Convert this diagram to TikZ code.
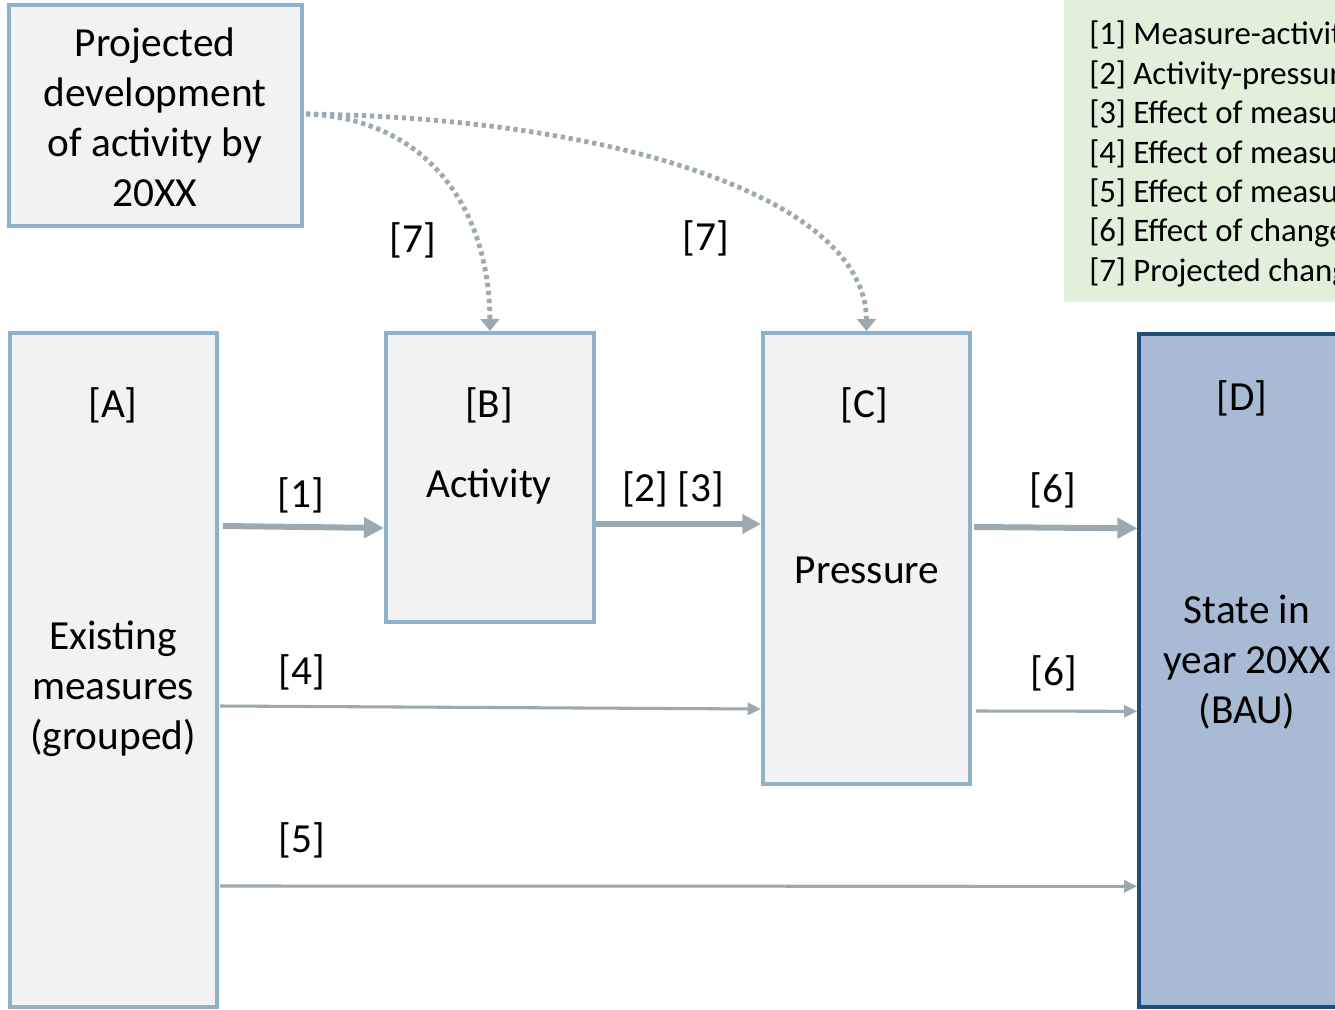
\documentclass[tikz,border=0pt]{standalone}
\usepackage{fontspec}
\setmainfont{Carlito}
\usetikzlibrary{arrows.meta,calc,fit}
\definecolor{boxfill}{HTML}{F2F2F2}
\definecolor{boxline}{HTML}{8EB2C9}
\definecolor{arrcol}{HTML}{9DA9B1}
\definecolor{dfill}{HTML}{A9BAD5}
\definecolor{dline}{HTML}{1F4E79}
\definecolor{legfill}{HTML}{E2EFDA}
\tikzset{
  box/.style={draw=boxline, fill=boxfill, line width=3pt, inner sep=0pt},
  dbox/.style={draw=dline, fill=dfill, line width=2.5pt, inner sep=0pt},
  legbox/.style={fill=legfill, draw=none, inner sep=0pt},
  big/.style={font=\fontsize{31}{37.5}\selectfont, align=center, inner sep=0pt},
  lab/.style={font=\fontsize{31}{37.5}\selectfont, inner sep=0pt},
  thickarr/.style={draw=arrcol, line width=4.5pt, -{Triangle[length=15pt,width=15pt]}, arrcol},
  midarr/.style={draw=arrcol, line width=3.8pt, -{Triangle[length=14pt,width=14pt]}, arrcol},
  thinarr/.style={draw=arrcol, line width=2.3pt, -{Triangle[length=10pt,width=9pt]}, arrcol},
  dotarr/.style={draw=arrcol, line width=3.6pt, dash pattern=on 3.2pt off 2.8pt, -{Triangle[length=9pt,width=14pt]}, arrcol},
}
\begin{document}
\begin{tikzpicture}[x=0.75pt,y=-0.75pt]
\useasboundingbox (0,0) rectangle (1335,1010);
\clip (0,0) rectangle (1335,1010);
\fill[white] (0,0) rectangle (1335,1010);
% legend
\node[legbox, fit={(1064,-10) (1345,302)}] (L) {};
\node[anchor=west, align=left, inner sep=0pt, font=\fontsize{24.6}{29.55}\selectfont] (Ltext) at (1089,154)
 {[1] Measure-activity\\{}[2] Activity-pressure\\{}[3] Effect of measure\\{}[4] Effect of measure\\{}[5] Effect of measure\\{}[6] Effect of change\\{}[7] Projected change};
% boxes
\node[box, fit={(9,5) (302,226)}] (P) {};
\node[box, fit={(10,333) (217,1007)}] (A) {};
\node[box, fit={(386,333) (594,622)}] (B) {};
\node[box, fit={(763,333) (970,784)}] (C) {};
\node[dbox, fit={(1139,334) (1350,1007)}] (D) {};
% texts
\node[big] (Pt) at (155,117) {Projected\\development\\of activity by\\20XX};
\node[lab] (At) at (113,405) {[A]};
\node[big] (At2) at (113,689) {Existing\\measures\\(grouped)};
\node[lab] (Bt) at (489,405) {[B]};
\node[lab] (Bt2) at (489,487) {Activity};
\node[lab] (Ct) at (864,405) {[C]};
\node[lab] (Ct2) at (867,570) {Pressure};
\node[lab] (Dt) at (1242,398) {[D]};
\node[big] (Dt2) at (1247,662) {State in\\year 20XX\\(BAU)};
% arrows
\draw[thickarr] ($(A.north east)+(4,195)$) -- ($(B.north west)+(0,197)$);
\draw[midarr] ($(B.north east)+(0,193)$) -- ($(C.north west)+(0,193)$);
\draw[thickarr] ($(C.north east)+(2,196)$) -- ($(D.north west)+(0,196)$);
\draw[thinarr] ($(A.north east)+(1,375)$) -- ($(C.north west)+(0,378)$);
\draw[thinarr] ($(C.north east)+(4,380)$) -- ($(D.north west)+(0,379)$);
\draw[thinarr] ($(A.north east)+(1,555)$) -- ($(D.north west)+(0,554)$);
\draw[dotarr] ($(P.north east)+(2,111)$) .. controls (420,118) and (489,200) .. (B.north);
\draw[dotarr] ($(P.north east)+(2,111)$) .. controls (620,118) and (866,200) .. (C.north);
% arrow labels
\node[lab] (l1) at (301,495) {[1]};
\node[lab] (l23) at (673,489) {[2] [3]};
\node[lab] (l6a) at (1053,490) {[6]};
\node[lab] (l6b) at (1054,673) {[6]};
\node[lab] (l4) at (302,672) {[4]};
\node[lab] (l5) at (302,840) {[5]};
\node[lab] (l7a) at (413,240) {[7]};
\node[lab] (l7b) at (706,238) {[7]};
\end{tikzpicture}
\end{document}
